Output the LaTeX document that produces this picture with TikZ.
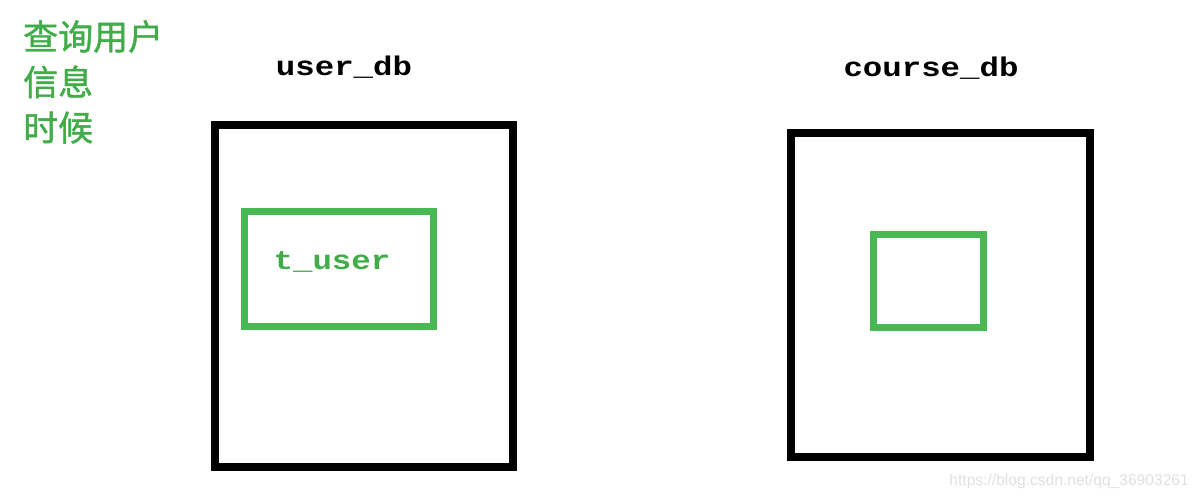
\documentclass[tikz,border=0pt]{standalone}
\usepackage{fontspec}
\newfontfamily\cjk[FakeBold=1.2]{Noto Sans CJK SC}
\newfontfamily\dbfont[FakeStretch=1.2]{Liberation Mono}
\newfontfamily\wmfont{Liberation Sans}
\usetikzlibrary{positioning}
\definecolor{boxgreen}{RGB}{72,184,82}
\definecolor{textgreen}{RGB}{66,172,74}

\begin{document}
\begin{tikzpicture}[x=1pt,y=-1pt,
    db/.style={draw,line width=8pt,inner sep=0pt},
    tbl/.style={draw=boxgreen,line width=7pt,inner sep=0pt},
    lbl/.style={font=\fontsize{27}{27}\selectfont\dbfont\bfseries,inner sep=0pt}]
    \useasboundingbox (0,0) rectangle (1198,498);

    % left side: the user database
    \node[db,minimum width=298pt,minimum height=342pt] (userdb) at (364,296) {};
    \node[tbl,minimum width=189pt,minimum height=115pt] (tuser) at (339,269) {};
    \node[lbl,text=textgreen,anchor=base] (tuserlbl) at (332,269) {t\_user};
    \node[lbl,anchor=base] (userdblbl) at (344,75) {user\_db};

    % right side: the course database
    \node[db,minimum width=299pt,minimum height=324pt] (coursedb) at (940.5,295) {};
    \node[tbl,minimum width=110pt,minimum height=93pt] (tcourse) at (928.5,281) {};
    \node[lbl,anchor=base] (coursedblbl) at (931,76) {course\_db};

    % note
    \node[font=\fontsize{35}{45.5}\selectfont\cjk,text=textgreen,
          align=left,anchor=north west,inner sep=0pt] (note) at (23,20)
          {查询用户\\信息\\时候};

    \node[font=\fontsize{15.6}{16}\selectfont\wmfont,text=black!12,
          anchor=base east,inner sep=0pt] (mark) at (1189,485)
          {https://blog.csdn.net/qq\_36903261};
\end{tikzpicture}
\end{document}
